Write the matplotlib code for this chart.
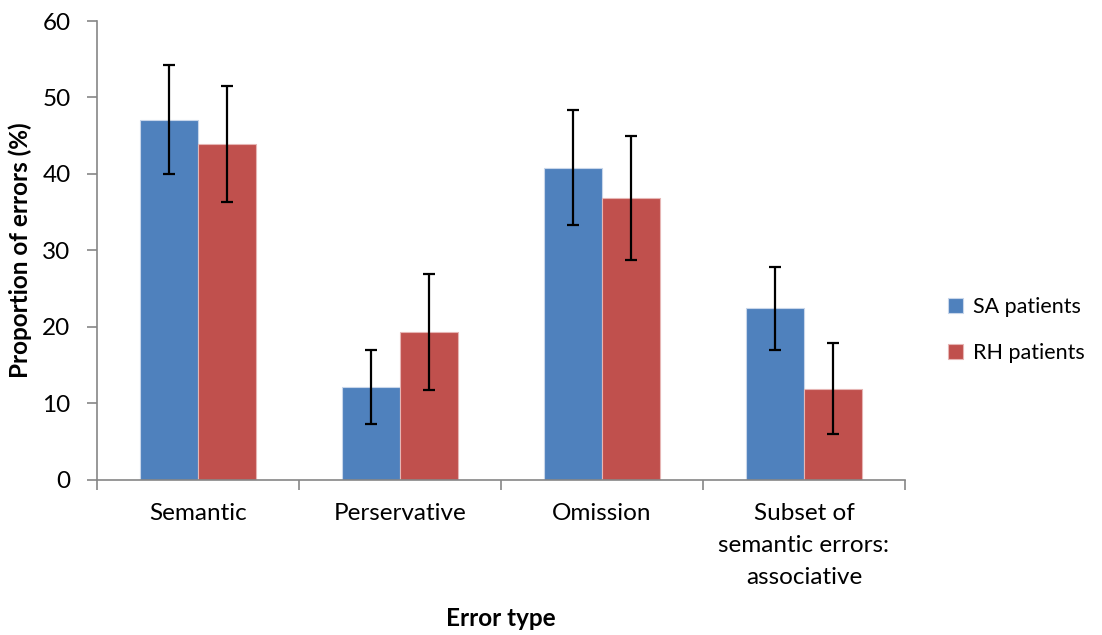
import numpy as np
import matplotlib.pyplot as plt

# data
categories = ["Semantic", "Perservative", "Omission", "Subset of\nsemantic errors:\nassociative"]
sa_values = [47.1, 12.1, 40.8, 22.4]
sa_err = [7.1, 4.8, 7.5, 5.4]
rh_values = [43.9, 19.3, 36.8, 11.9]
rh_err = [7.6, 7.6, 8.1, 6.0]
series_names = ["SA patients", "RH patients"]

blue = "#4F81BD"
red = "#C0504D"
axis_grey = "#868686"

plt.rcParams['font.family'] = ['Lato', 'DejaVu Sans']
fs = 17.5

fig = plt.figure(figsize=(11.02, 6.35), dpi=100)
ax = fig.add_axes([97/1102, 1 - 479.5/635, 808/1102, 458.5/635])

x = np.arange(len(categories))
w = 1 / 3.5  # excel gap width 150%

err_kw = dict(ecolor="black", elinewidth=1.6, capsize=4.5, capthick=1.6)
ax.bar(x - w/2, sa_values, w, yerr=sa_err, color=blue, edgecolor="#C8D6EA",
       linewidth=0.8, label=series_names[0], error_kw=err_kw, zorder=2)
ax.bar(x + w/2, rh_values, w, yerr=rh_err, color=red, edgecolor="#E6B5B4",
       linewidth=0.8, label=series_names[1], error_kw=err_kw, zorder=2)

ax.set_xlim(-0.5, len(categories) - 0.5)
ax.set_ylim(0, 60)
ax.set_yticks(np.arange(0, 61, 10))

# x ticks at category boundaries, labels at centres
ax.set_xticks(np.arange(-0.5, len(categories)), minor=False)
ax.set_xticklabels([])
ax.set_xticks(x, minor=True)
ax.set_xticklabels(categories, minor=True, fontsize=fs, linespacing=1.64, va="top")
ax.tick_params(axis="x", which="minor", length=0, pad=17)
ax.tick_params(axis="x", which="major", length=7, width=1.2, color=axis_grey)
ax.tick_params(axis="y", length=7, width=1.2, color=axis_grey, labelsize=fs, pad=12)

for s in ["top", "right"]:
    ax.spines[s].set_visible(False)
for s in ["left", "bottom"]:
    ax.spines[s].set_color(axis_grey)
    ax.spines[s].set_linewidth(1.2)

ax.set_ylabel("Proportion of errors (%)", fontsize=fs, fontweight="bold")
ax.yaxis.set_label_coords((20 - 97) / 808, 0.5)
ax.yaxis.label.set_va("center")
ax.set_xlabel("Error type", fontsize=fs, fontweight="bold")
ax.xaxis.set_label_coords(0.5, (479.5 - 618) / 458.5)
ax.xaxis.label.set_va("center")

ax.legend(loc="center left", bbox_to_anchor=((948 - 97) / 808, 0.326), frameon=False, fontsize=15.5,
          borderpad=0, borderaxespad=0, handlelength=0.7, handleheight=0.7,
          handletextpad=0.45, labelspacing=1.25)

fig.savefig("out.png", dpi=100)
